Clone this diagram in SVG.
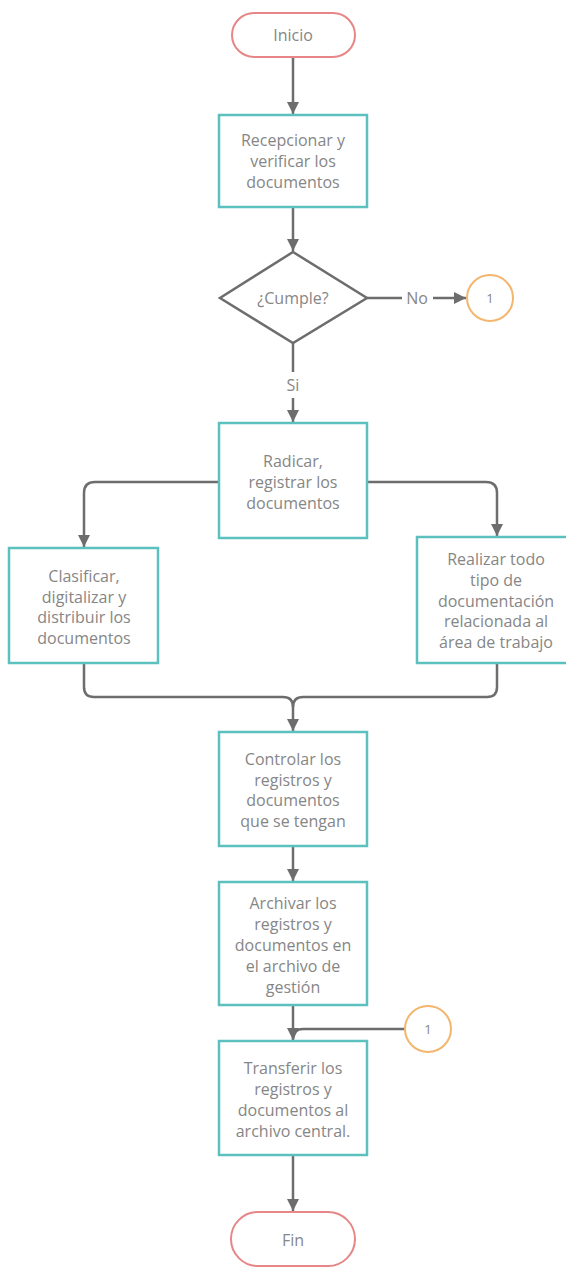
<svg xmlns="http://www.w3.org/2000/svg" width="566" height="1269" viewBox="0 0 566 1269">
<style>
.box{fill:#fff;stroke:#5cc1be;stroke-width:2.5}
.term{fill:#fff;stroke:#e68686;stroke-width:2}
.conn{fill:#fff;stroke:#f3b66e;stroke-width:2}
.dec{fill:#fff;stroke:#6d6d6d;stroke-width:2.5}
.t{font-family:"Open Sans","Liberation Sans",sans-serif;font-size:16px;fill:#868686;text-anchor:middle;dominant-baseline:central}
.s{font-size:13px}
.ln{fill:none;stroke:#6d6d6d;stroke-width:2.5}
</style>
<defs>
<marker id="ah" markerUnits="userSpaceOnUse" markerWidth="14" markerHeight="12" refX="12" refY="6" orient="auto">
<path d="M0,0 L12,6 L0,12 Z" fill="#6d6d6d"/>
</marker>
</defs>
<rect width="566" height="1269" fill="#fff"/>
<g id="connectors">
<path class="ln" d="M293,57 V114" marker-end="url(#ah)"/>
<path class="ln" d="M293,207 V251" marker-end="url(#ah)"/>
<path class="ln" d="M367,298 H402"/>
<path class="ln" d="M433,298 H466" marker-end="url(#ah)"/>
<path class="ln" d="M293,343 V372"/>
<path class="ln" d="M293,398 V422" marker-end="url(#ah)"/>
<path class="ln" d="M219,482 H95 Q84,482 84,493 V547" marker-end="url(#ah)"/>
<path class="ln" d="M367,482 H486 Q497,482 497,493 V536" marker-end="url(#ah)"/>
<path class="ln" d="M84,663 V687 Q84,697 94,697 H283 Q293,697 293,707 V731" marker-end="url(#ah)"/>
<path class="ln" d="M497,663 V687 Q497,697 487,697 H303 Q293,697 293,707"/>
<path class="ln" d="M293,846 V881" marker-end="url(#ah)"/>
<path class="ln" d="M293,1005 V1040" marker-end="url(#ah)"/>
<path class="ln" d="M405,1029 H303 Q293,1029 293,1039"/>
<path class="ln" d="M293,1155 V1211" marker-end="url(#ah)"/>
</g>
<g id="inicio"><rect class="term" x="232" y="13" width="123" height="44" rx="22"/><text class="t" x="293" y="35">Inicio</text></g>
<g id="recepcionar"><rect class="box" x="219" y="115" width="148" height="92"/>
<text class="t" x="293" y="140">Recepcionar y</text><text class="t" x="293" y="161">verificar los</text><text class="t" x="293" y="182">documentos</text></g>
<g id="cumple"><path class="dec" d="M293,252 L367,298 L293,343 L220,298 Z"/><text class="t" x="293" y="298">¿Cumple?</text></g>
<g id="label-no"><text class="t" x="417" y="298">No</text></g>
<g id="label-si"><text class="t" x="293" y="385">Si</text></g>
<g id="conector1a"><circle class="conn" cx="490" cy="298" r="23"/><text class="t s" x="490" y="298">1</text></g>
<g id="radicar"><rect class="box" x="219" y="423" width="148" height="115"/>
<text class="t" x="293" y="461">Radicar,</text><text class="t" x="293" y="482">registrar los</text><text class="t" x="293" y="503">documentos</text></g>
<g id="clasificar"><rect class="box" x="9" y="548" width="149" height="115"/>
<text class="t" x="84" y="576">Clasificar,</text><text class="t" x="84" y="597">digitalizar y</text><text class="t" x="84" y="617">distribuir los</text><text class="t" x="84" y="638">documentos</text></g>
<g id="realizar"><rect class="box" x="417" y="537" width="160" height="126"/>
<text class="t" x="496" y="559">Realizar todo</text><text class="t" x="496" y="580">tipo de</text><text class="t" x="496" y="601">documentación</text><text class="t" x="496" y="621">relacionada al</text><text class="t" x="496" y="642">área de trabajo</text></g>
<g id="controlar"><rect class="box" x="219" y="732" width="148" height="114"/>
<text class="t" x="293" y="759">Controlar los</text><text class="t" x="293" y="780">registros y</text><text class="t" x="293" y="800">documentos</text><text class="t" x="293" y="821">que se tengan</text></g>
<g id="archivar"><rect class="box" x="219" y="882" width="148" height="123"/>
<text class="t" x="293" y="903">Archivar los</text><text class="t" x="293" y="924">registros y</text><text class="t" x="293" y="945">documentos en</text><text class="t" x="293" y="966">el archivo de</text><text class="t" x="293" y="987">gestión</text></g>
<g id="conector1b"><circle class="conn" cx="428" cy="1029" r="23"/><text class="t s" x="428" y="1029">1</text></g>
<g id="transferir"><rect class="box" x="219" y="1041" width="148" height="114"/>
<text class="t" x="293" y="1068">Transferir los</text><text class="t" x="293" y="1089">registros y</text><text class="t" x="293" y="1110">documentos al</text><text class="t" x="293" y="1131">archivo central.</text></g>
<g id="fin"><rect class="term" x="231" y="1212" width="124" height="54" rx="27"/><text class="t" x="293" y="1240">Fin</text></g>
</svg>
